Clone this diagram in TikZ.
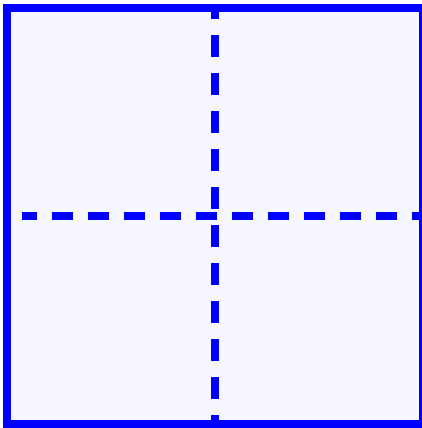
\documentclass[tikz,border=0pt]{standalone}
\definecolor{panelfill}{RGB}{246,246,255}
\definecolor{lineblue}{RGB}{0,0,255}
\tikzset{
  frame/.style={draw=lineblue, line width=8pt, fill=panelfill},
  vdash/.style={draw=lineblue, line width=8pt, dash pattern=on 22pt off 16pt, dash phase=7pt},
  hdash/.style={draw=lineblue, line width=8pt, dash pattern=on 21pt off 15pt, dash phase=6pt}
}
\begin{document}
\begin{tikzpicture}[x=1pt,y=-1pt]
\useasboundingbox (0,0) rectangle (422,428);
\clip (0,0) rectangle (422,428);
\fill[white] (0,0) rectangle (422,428);
\path[frame] (7,8) rectangle (423,424);
\coordinate (vtop) at (215,4);
\coordinate (vbot) at (215,428);
\coordinate (hleft) at (22,216);
\coordinate (hright) at (423,216);
\draw[vdash] (vtop) -- (vbot);
\draw[hdash] (hleft) -- (hright);
\end{tikzpicture}
\end{document}
